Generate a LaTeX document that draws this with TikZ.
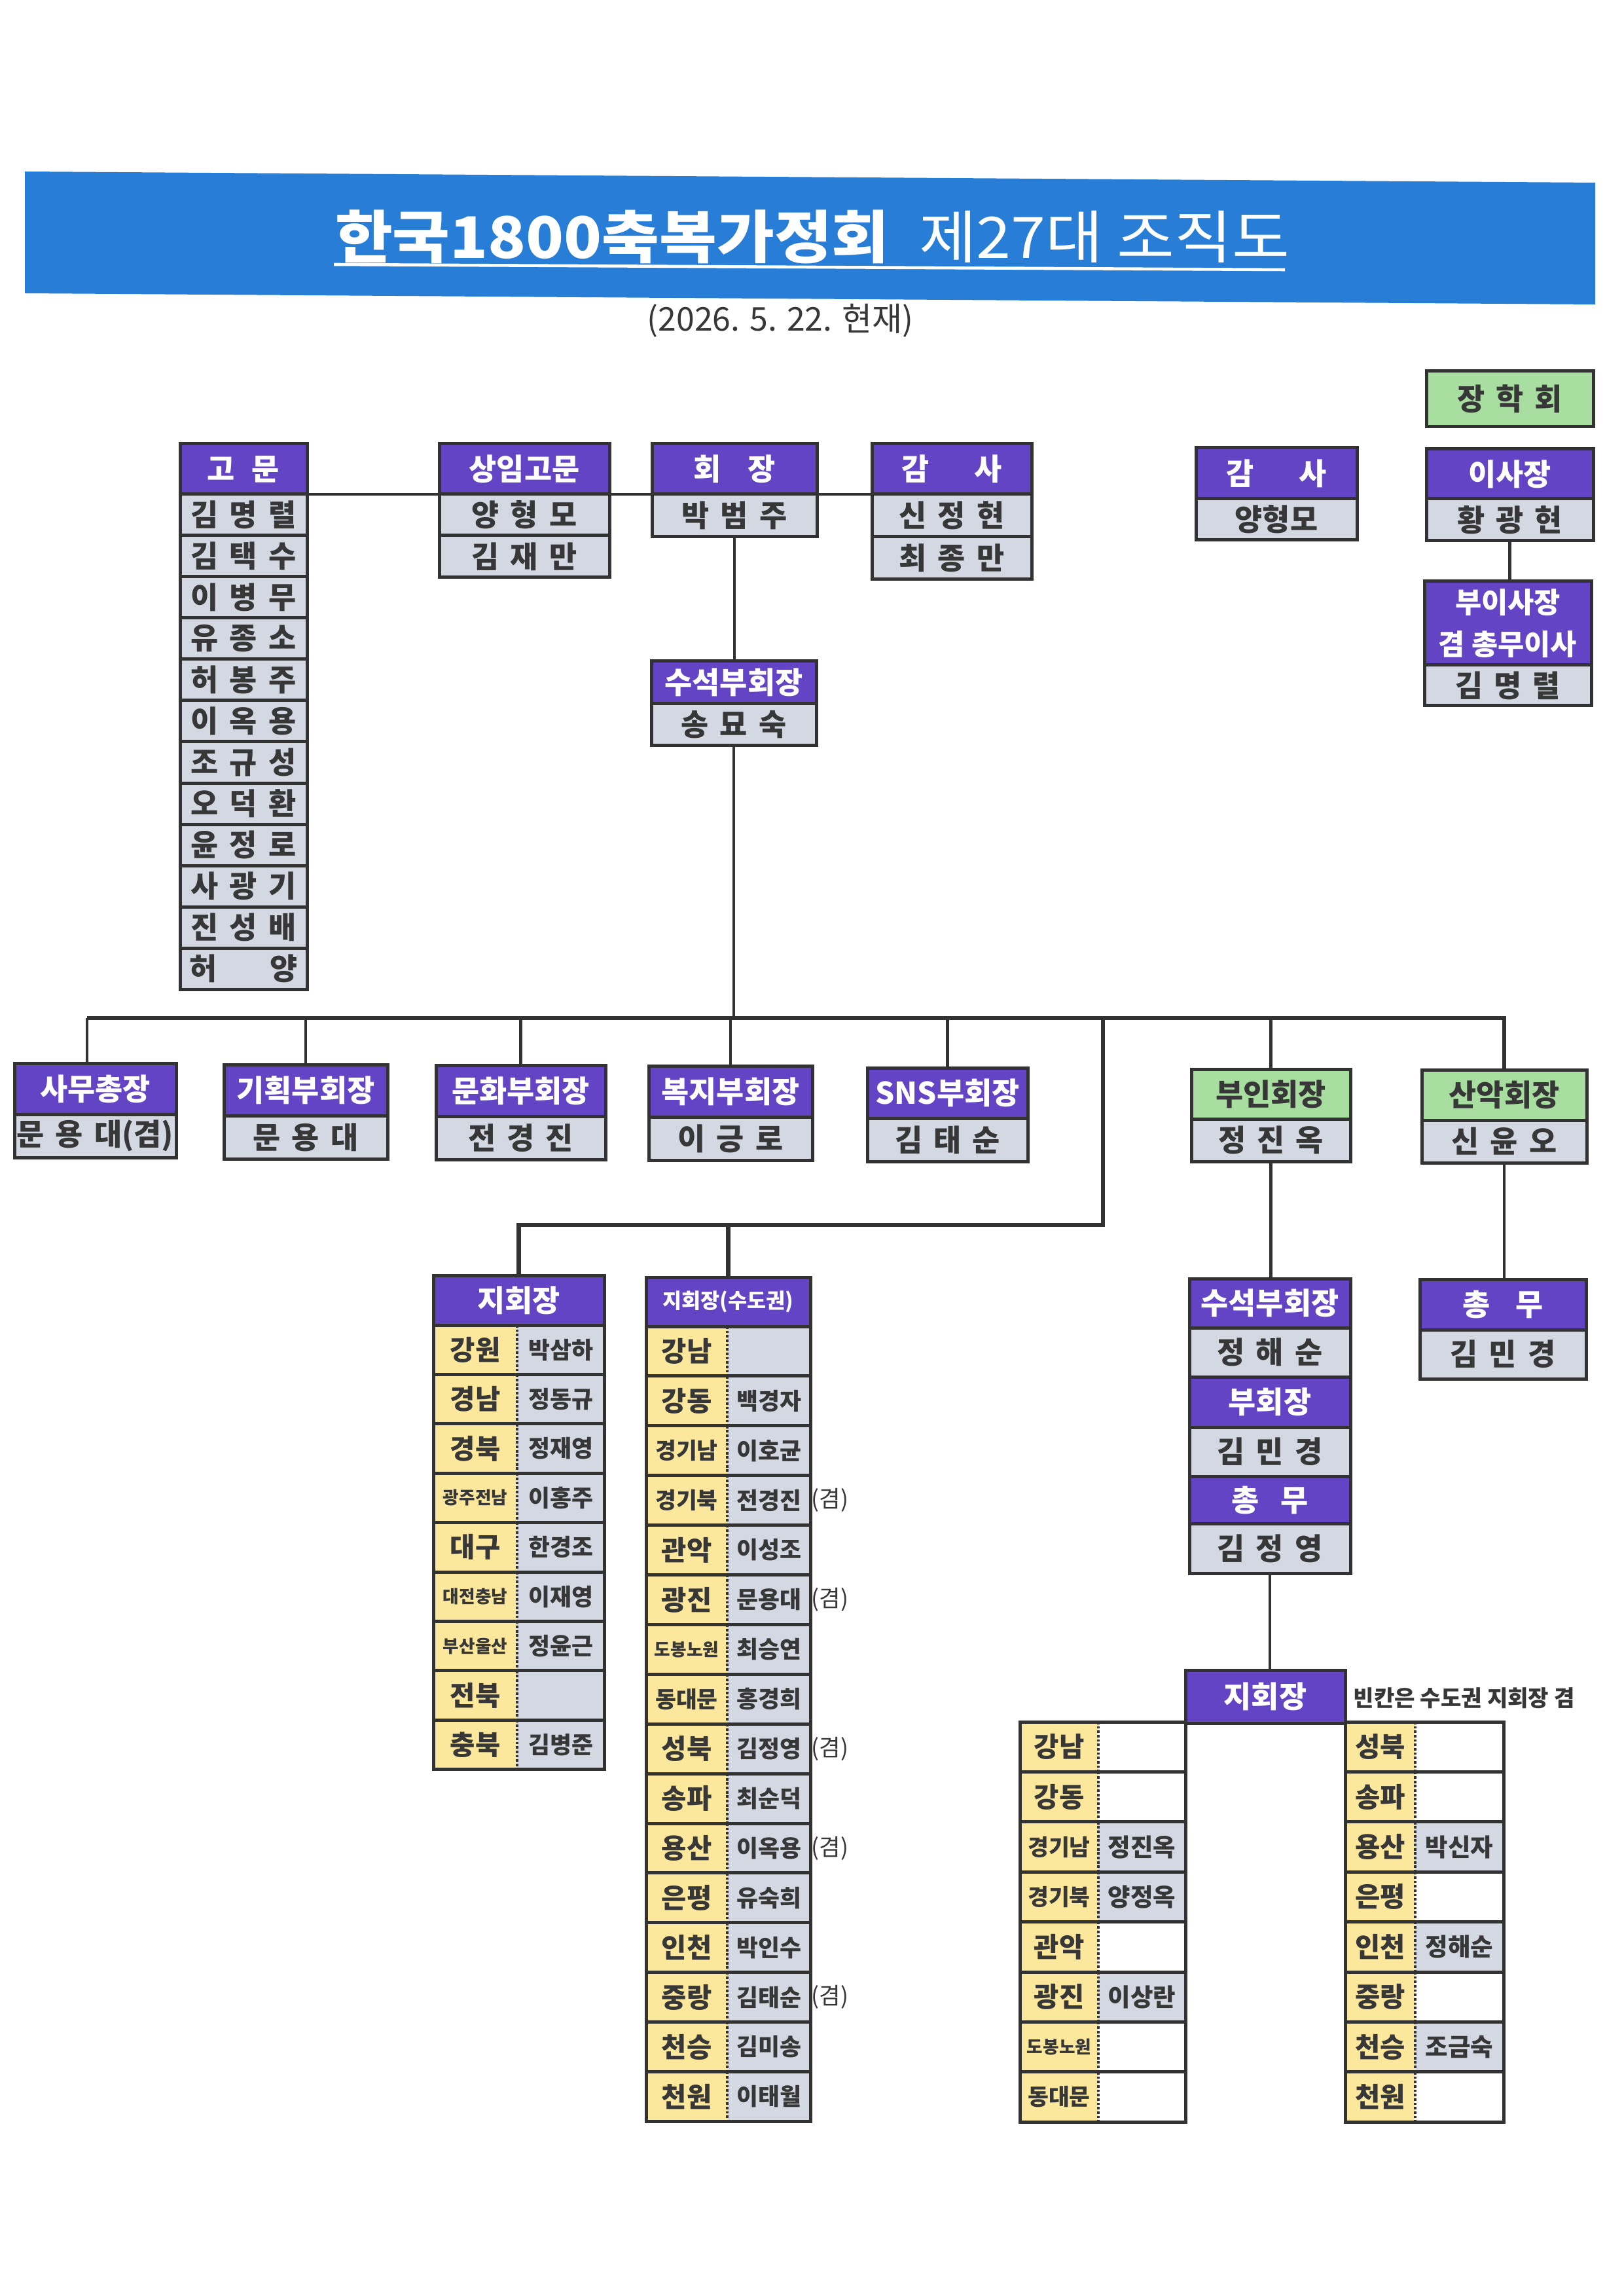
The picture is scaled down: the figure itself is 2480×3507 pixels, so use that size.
\documentclass[tikz,border=0pt]{standalone}
\usepackage{graphicx}
\usepackage{fontspec}
\setmainfont{Noto Sans CJK KR}
\usetikzlibrary{backgrounds}
\definecolor{pur}{RGB}{99,68,196}
\definecolor{gry}{RGB}{212,216,226}
\definecolor{ylw}{RGB}{252,232,156}
\definecolor{grn}{RGB}{168,222,160}
\definecolor{blu}{RGB}{40,126,214}
\definecolor{bd}{RGB}{50,50,50}
\definecolor{tx}{RGB}{55,55,55}
\newcommand\w[1]{\ \hspace{#1pt}}
\newcommand\nmm[3]{#1\w{1.6}#2\w{1.6}#3}
\newcommand\bx[7]{\node[#6,minimum width={((#4)-(#2))*0.24pt},minimum height={((#5)-(#3))*0.24pt}] (#1) at ({((#2)+(#4))/2},{((#3)+(#5))/2}) {#7};}
\newcommand\fT{\fontsize{11}{13}\selectfont\bfseries}
\newcommand\rL{\fontsize{10}{12}\selectfont\bfseries}
\newcommand\rM{\fontsize{8.3}{10}\selectfont\bfseries}
\newcommand\rS{\fontsize{6.4}{8}\selectfont\bfseries}
\newcommand\nS{\fontsize{8.6}{10}\selectfont\bfseries}
\begin{document}
\begin{tikzpicture}[x=0.24pt,y={(0pt,-0.24pt)},
  base/.style={draw=bd,line width=1.2pt,inner sep=0pt,outer sep=0pt,align=center},
  ttl/.style={base,fill=pur,text=white,font=\fT},
  gttl/.style={base,fill=grn,text=tx,font=\fT},
  nmc/.style={base,fill=gry,text=tx,font=\fT},
  rgc/.style={inner sep=0pt,outer sep=0pt,fill=ylw,text=tx},
  tnc/.style={inner sep=0pt,outer sep=0pt,fill=gry,text=tx,font=\nS},
  bdr/.style={draw=bd,line width=1.2pt},
  dv/.style={draw=bd,line width=1.1pt,dash pattern=on 0.9pt off 0.7pt},
  cn/.style={draw=bd,line width=1.1pt},
  mn/.style={draw=bd,line width=1.6pt},
  gyl/.style={text=tx,font=\fontsize{8.5}{10}\selectfont,inner sep=0pt}]
\useasboundingbox (0,0) rectangle (2480,3507);
% banner
\fill[blu] (38,262) -- (2437,279) -- (2437,465) -- (38,448) -- cycle;
\node[text=white,font=\fontsize{21}{24}\selectfont,inner sep=0pt] (title) at (1241,362) {\scalebox{1.09}[1]{{\bfseries 한국1800축복가정회}\hspace{10pt}제27대 조직도}};
\coordinate (ulL) at (510,404);
\coordinate (ulR) at (1963,412);
\draw[white,line width=1.1pt] (ulL) -- (ulR);
\node[text=tx,font=\fontsize{12}{14}\selectfont,inner sep=0pt] (date) at (1192,490) {(2026. 5. 22. 현재)};
% top row
\bx{gm}{275}{678}{469}{755}{ttl}{고\w{3.7}문}
\foreach \nm [count=\i] in {\nmm{김}{명}{렬},\nmm{김}{택}{수},\nmm{이}{병}{무},\nmm{유}{종}{소},\nmm{허}{봉}{주},\nmm{이}{옥}{용},\nmm{조}{규}{성},\nmm{오}{덕}{환},\nmm{윤}{정}{로},\nmm{사}{광}{기},\nmm{진}{성}{배},허\w{17}양}{
  \bx{gm\i}{275}{755+(\i-1)*63}{469}{755+\i*63}{nmc}{\nm}
}
\bx{sg}{671}{678}{931}{755}{ttl}{상임고문}
\bx{sg1}{671}{755}{931}{818}{nmc}{\nmm{양}{형}{모}}
\bx{sg2}{671}{818}{931}{882}{nmc}{\nmm{김}{재}{만}}
\bx{hj}{996}{678}{1248}{755}{ttl}{회\w{7.3}장}
\bx{hj1}{996}{755}{1248}{820}{nmc}{\nmm{박}{범}{주}}
\bx{gs}{1332}{678}{1576}{755}{ttl}{감\w{14}사}
\bx{gs1}{1332}{755}{1576}{820}{nmc}{\nmm{신}{정}{현}}
\bx{gs2}{1332}{820}{1576}{885}{nmc}{\nmm{최}{종}{만}}
\bx{ss}{995}{1010}{1247}{1075}{ttl}{수석부회장}
\bx{ss1}{995}{1075}{1247}{1138}{nmc}{\nmm{송}{묘}{숙}}
% right top
\bx{gk}{1827}{684}{2073}{762}{ttl}{감\w{14}사}
\bx{gk1}{1827}{762}{2073}{825}{nmc}{양형모}
\bx{jh}{2179}{567}{2434}{652}{gttl}{\nmm{장}{학}{회}}
\bx{is}{2179}{686}{2434}{762}{ttl}{이사장}
\bx{is1}{2179}{762}{2434}{826}{nmc}{\nmm{황}{광}{현}}
\bx{bs2}{2176}{888}{2431}{1016}{ttl,font=\fontsize{10.5}{15.5}\selectfont\bfseries}{부이사장\\겸 총무이사}
\bx{bs21}{2176}{1016}{2431}{1078}{nmc}{\nmm{김}{명}{렬}}
% second row
\bx{sm}{22}{1624}{269}{1702}{ttl}{사무총장}
\bx{sm1}{22}{1702}{269}{1768}{nmc}{문\w{1.6}용\w{1.6}대(겸)}
\bx{gh}{342}{1626}{592}{1704}{ttl}{기획부회장}
\bx{gh1}{342}{1704}{592}{1770}{nmc}{\nmm{문}{용}{대}}
\bx{mh}{666}{1627}{925}{1705}{ttl}{문화부회장}
\bx{mh1}{666}{1705}{925}{1771}{nmc}{\nmm{전}{경}{진}}
\bx{bj}{991}{1628}{1241}{1706}{ttl}{복지부회장}
\bx{bj1}{991}{1706}{1241}{1772}{nmc}{\nmm{이}{긍}{로}}
\bx{sn}{1325}{1631}{1570}{1708}{ttl}{SNS부회장}
\bx{sn1}{1325}{1708}{1570}{1774}{nmc}{\nmm{김}{태}{순}}
\bx{bi}{1820}{1633}{2063}{1709}{gttl}{부인회장}
\bx{bi1}{1820}{1709}{2063}{1774}{nmc}{\nmm{정}{진}{옥}}
\bx{sa}{2172}{1634}{2424}{1711}{gttl}{산악회장}
\bx{sa1}{2172}{1711}{2424}{1776}{nmc}{\nmm{신}{윤}{오}}
% women's stack
\bx{bs}{1817}{1953}{2063}{2028}{ttl}{수석부회장}
\bx{bs1}{1817}{2028}{2063}{2103}{nmc}{\nmm{정}{해}{순}}
\bx{bv}{1817}{2103}{2063}{2180}{ttl}{부회장}
\bx{bv1}{1817}{2180}{2063}{2255}{nmc}{\nmm{김}{민}{경}}
\bx{bc}{1817}{2255}{2063}{2327}{ttl}{총\w{5.5}무}
\bx{bc1}{1817}{2327}{2063}{2403}{nmc}{\nmm{김}{정}{영}}
\bx{sc}{2169}{1954}{2423}{2031}{ttl}{총\w{7}무}
\bx{sc1}{2169}{2031}{2423}{2106}{nmc}{\nmm{김}{민}{경}}
% branch table 1
\bx{ja}{662}{1948}{923}{2024}{ttl}{지회장}
\foreach \ra/\nb/\fc [count=\i] in {강원/박삼하/\rL,경남/정동규/\rL,경북/정재영/\rL,광주전남/이홍주/\rS,대구/한경조/\rL,대전충남/이재영/\rS,부산울산/정윤근/\rS,전북//\rL,충북/김병준/\rL}{
  \bx{jar\i}{662}{2024+(\i-1)*75.4}{790}{2024+\i*75.4}{rgc}{\fc\ra}
  \bx{jan\i}{790}{2024+(\i-1)*75.4}{923}{2024+\i*75.4}{tnc}{\nb}
  \draw[bdr] (jar\i.north west) rectangle (jan\i.south east);
  \draw[dv] (jar\i.north east) -- (jar\i.south east);
}
% branch table 2
\bx{jb}{987}{1951}{1238}{2026}{ttl,font=\fontsize{7.6}{9}\selectfont\bfseries}{지회장(수도권)}
\foreach \ra/\nb/\fc [count=\i] in {강남//\rL,강동/백경자/\rL,경기남/이호균/\rM,경기북/전경진/\rM,관악/이성조/\rL,광진/문용대/\rL,도봉노원/최승연/\rS,동대문/홍경희/\rM,성북/김정영/\rL,송파/최순덕/\rL,용산/이옥용/\rL,은평/유숙희/\rL,인천/박인수/\rL,중랑/김태순/\rL,천승/김미송/\rL,천원/이태월/\rL}{
  \bx{jbr\i}{987}{2026+(\i-1)*75.9}{1111}{2026+\i*75.9}{rgc}{\fc\ra}
  \bx{jbn\i}{1111}{2026+(\i-1)*75.9}{1238}{2026+\i*75.9}{tnc}{\nb}
  \draw[bdr] (jbr\i.north west) rectangle (jbn\i.south east);
  \draw[dv] (jbr\i.north east) -- (jbr\i.south east);
}
\foreach \i in {4,6,9,11,14}{
  \node[gyl] (gy\i) at (1268,{2026+(\i-0.5)*75.9}) {(겸)};
}
% branch table 3
\bx{jc}{1811}{2551}{2055}{2632}{ttl}{지회장}
\node[text=tx,font=\fontsize{8.2}{10}\selectfont\bfseries,inner sep=0pt,anchor=west] (note) at (2067,2594) {빈칸은 수도권 지회장 겸};
\foreach \ra/\nb/\fc/\fl [count=\i] in {강남//\rL/white,강동//\rL/white,경기남/정진옥/\rM/gry,경기북/양정옥/\rM/gry,관악//\rL/white,광진/이상란/\rL/gry,도봉노원//\rS/white,동대문//\rM/white}{
  \bx{jcr\i}{1558}{2630+(\i-1)*76.4}{1678}{2630+\i*76.4}{rgc}{\fc\ra}
  \bx{jcn\i}{1678}{2630+(\i-1)*76.4}{1811}{2630+\i*76.4}{tnc,fill=\fl,font=\fontsize{9}{11}\selectfont\bfseries}{\nb}
  \draw[bdr] (jcr\i.north west) rectangle (jcn\i.south east);
  \draw[dv] (jcr\i.north east) -- (jcr\i.south east);
}
\foreach \ra/\nb/\fc/\fl [count=\i] in {성북//\rL/white,송파//\rL/white,용산/박신자/\rL/gry,은평//\rL/white,인천/정해순/\rL/gry,중랑//\rL/white,천승/조금숙/\rL/gry,천원//\rL/white}{
  \bx{jdr\i}{2055}{2630+(\i-1)*76.4}{2162}{2630+\i*76.4}{rgc}{\fc\ra}
  \bx{jdn\i}{2162}{2630+(\i-1)*76.4}{2297}{2630+\i*76.4}{tnc,fill=\fl,font=\fontsize{9}{11}\selectfont\bfseries}{\nb}
  \draw[bdr] (jdr\i.north west) rectangle (jdn\i.south east);
  \draw[dv] (jdr\i.north east) -- (jdr\i.south east);
}
% connectors
\coordinate (ml) at (133,1555);
\coordinate (brt) at (1685,1555);
\coordinate (bk) at (1685,1871);
\begin{pgfonlayer}{background}
\fill[white] (0,0) rectangle (2480,3507);
\draw[cn] (gm.south east) -- (gs.south west);
\draw[cn] (hj1.south) -- (hj1.south |- ss.north);
\draw[cn] (ss1.south) -- (ss1.south |- ml);
\draw[mn] (ml) -- (ml -| sa.north) -- (sa.north);
\draw[cn] (ml) -- (ml |- sm.north);
\draw[cn] (gh.north |- ml) -- (gh.north);
\draw[cn] (mh.north |- ml) -- (mh.north);
\draw[cn] (bj.north |- ml) -- (bj.north);
\draw[cn] (sn.north |- ml) -- (sn.north);
\draw[cn] (bi.north |- ml) -- (bi.north);
\draw[mn] (brt) -- (bk) -- (bk -| ja.north) -- (ja.north);
\draw[mn] (bk -| jb.north) -- (jb.north);
\draw[cn] (bi1.south) -- (bi1.south |- bs.north);
\draw[cn] (bc1.south) -- (bc1.south |- jc.north);
\draw[cn] (sa1.south) -- (sa1.south |- sc.north);
\draw[cn] (is1.south) -- (is1.south |- bs2.north);
\end{pgfonlayer}
\end{tikzpicture}
\end{document}
